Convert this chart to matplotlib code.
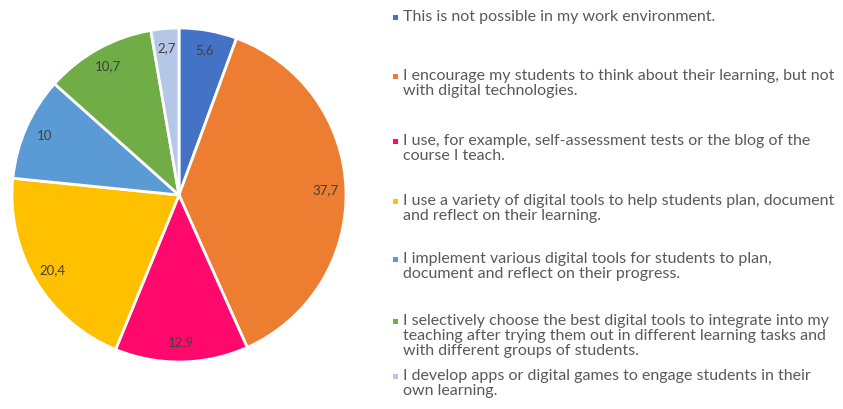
import matplotlib.pyplot as plt
from matplotlib.patches import Rectangle

categories = [
    "This is not possible in my work environment.",
    "I encourage my students to think about their learning, but not\nwith digital technologies.",
    "I use, for example, self-assessment tests or the blog of the\ncourse I teach.",
    "I use a variety of digital tools to help students plan, document\nand reflect on their learning.",
    "I implement various digital tools for students to plan,\ndocument and reflect on their progress.",
    "I selectively choose the best digital tools to integrate into my\nteaching after trying them out in different learning tasks and\nwith different groups of students.",
    "I develop apps or digital games to engage students in their\nown learning.",
]
values = [5.6, 37.7, 12.9, 20.4, 10, 10.7, 2.7]
labels = ["5,6", "37,7", "12,9", "20,4", "10", "10,7", "2,7"]
colors = ["#4472C4", "#ED7D31", "#FF0A6C", "#FFC000", "#5B9BD5", "#70AD47", "#B4C7E7"]

plt.rcParams['font.family'] = ['Lato', 'DejaVu Sans']

W, H = 843, 409
fig = plt.figure(figsize=(W / 100, H / 100), dpi=100)
cx, cy, r = 179, 195, 167
ax = fig.add_axes([(cx - r) / W, 1 - (cy + r) / H, 2 * r / W, 2 * r / H])
wedges, texts = ax.pie(values, colors=colors, startangle=90, counterclock=False,
                       labels=labels, labeldistance=0.88,
                       wedgeprops=dict(edgecolor="white", linewidth=2),
                       textprops=dict(color="#404040", fontsize=9.5))
for t in texts:
    t.set_ha("center")
    t.set_va("center")
ax.set_xlim(-1, 1)
ax.set_ylim(-1, 1)
ax.set_aspect("equal")

# legend
ys = [17, 76, 141, 201, 259, 321, 376]
for cat, c, y in zip(categories, colors, ys):
    fig.patches.append(Rectangle((393 / W, 1 - (y + 3) / H), 5 / W, 5 / H,
                                 transform=fig.transFigure, facecolor=c, edgecolor="none"))
    fig.text(403 / W, 1 - (y - 7) / H, cat, ha="left", va="top", fontsize=11.5,
             color="#595959", linespacing=1.1)

fig.savefig("out.png", dpi=100, facecolor="white")
